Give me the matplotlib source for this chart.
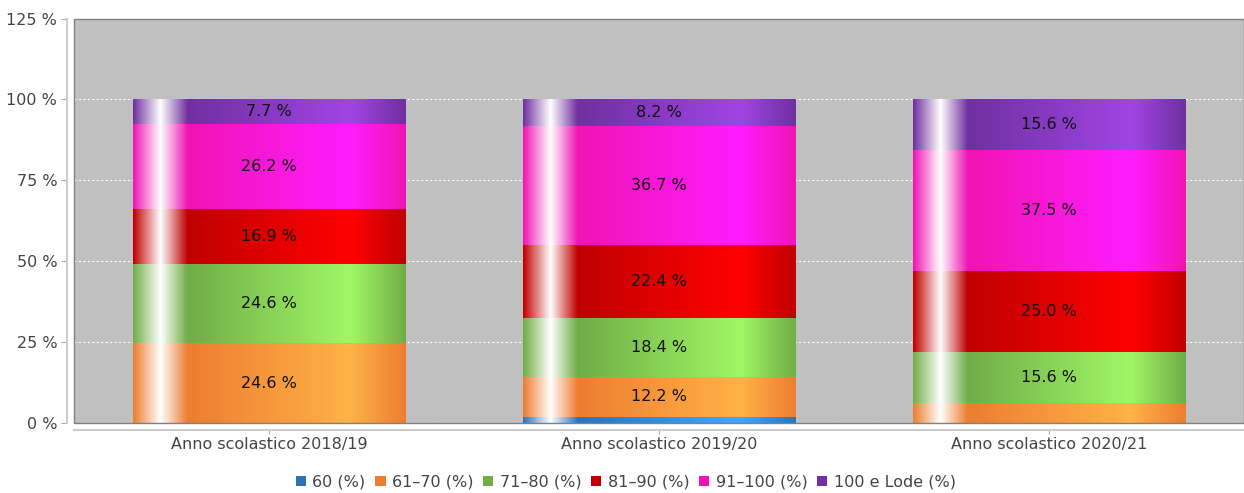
import numpy as np
import matplotlib.pyplot as plt
from matplotlib.colors import to_rgb
from matplotlib.patches import Patch, Rectangle

years = ['Anno scolastico 2018/19', 'Anno scolastico 2019/20', 'Anno scolastico 2020/21']
grades = ['60 (%)', '61\u201370 (%)', '71\u201380 (%)', '81\u201390 (%)', '91\u2013100 (%)', '100 e Lode (%)']
g60 = [0.0, 2.0, 0.0]
g61_70 = [24.6, 12.2, 6.3]
g71_80 = [24.6, 18.4, 15.6]
g81_90 = [16.9, 22.4, 25.0]
g91_100 = [26.2, 36.7, 37.5]
g_lode = [7.7, 8.2, 15.6]
series = [g60, g61_70, g71_80, g81_90, g91_100, g_lode]
colors = ['#2e74b5', '#ed7d31', '#70ad47', '#c00000', '#f014b4', '#7030a0']


def brighter(c):
    # like java.awt.Color.brighter()
    return tuple(min(1.0, v / 0.7) for v in c)


def gradient(color, n=400):
    # vertical-bar gradient: base -> white highlight -> base -> brighter -> base
    c0 = np.array(to_rgb(color))
    c1 = np.array(brighter(c0))
    white = np.ones(3)
    stops = [0.0, 0.1, 0.2, 0.8, 1.0]
    cols = np.array([c0, white, c0, c1, c0])
    t = np.linspace(0, 1, n)
    img = np.stack([np.interp(t, stops, cols[:, k]) for k in range(3)], axis=-1)
    return img[np.newaxis, :, :]


plt.rcParams['font.family'] = 'DejaVu Sans'
fig = plt.figure(figsize=(12.44, 4.93), dpi=100)
ax = fig.add_axes([74 / 1244, 1 - 423 / 493, 1170 / 1244, 404.5 / 493])
ax.set_facecolor('#c0c0c0')

x = np.arange(len(years))
bottom = np.zeros(len(years))
for vals, col, name in zip(series, colors, grades):
    vals = np.array(vals)
    bars = ax.bar(x, vals, width=0.7, bottom=bottom, color=col, label=name, zorder=2)
    for b in bars:
        if b.get_height() <= 0:
            continue
        x0, y0 = b.get_x(), b.get_y()
        ax.imshow(gradient(col), extent=[x0, x0 + b.get_width(), y0, y0 + b.get_height()],
                  aspect='auto', interpolation='bilinear', zorder=2.5)
    labels = [f'{v:.1f} %' if v >= 7 else '' for v in vals]
    ax.bar_label(bars, labels=labels, label_type='center', fontsize=11.5, color='#111111', zorder=4)
    bottom += vals

ax.set_xlim(-0.5, 2.5)
ax.set_ylim(0, 125)
ax.set_yticks([0, 25, 50, 75, 100, 125])
ax.set_yticklabels([f'{v} %' for v in [0, 25, 50, 75, 100, 125]])
ax.set_xticks(x)
ax.set_xticklabels(years)
ax.yaxis.grid(True, color='white', linestyle=(0, (2, 2)), linewidth=0.8)
ax.set_axisbelow(True)

for s in ['top', 'right']:
    ax.spines[s].set_visible(False)
for s in ['left', 'bottom']:
    ax.spines[s].set_position(('outward', 5))
    ax.spines[s].set_color('#cccccc')
    ax.spines[s].set_linewidth(1.5)
ax.add_patch(Rectangle((0, 0), 1, 1, transform=ax.transAxes, fill=False,
                       edgecolor='#808080', linewidth=1.0, zorder=5, clip_on=False))
ax.tick_params(axis='both', colors='#aaaaaa', labelcolor='#444444', labelsize=11.5, length=4)
ax.tick_params(axis='x', length=3, pad=2)
ax.tick_params(axis='y', pad=3)

handles = [Patch(facecolor=c, edgecolor='none', label=g) for c, g in zip(colors, grades)]
fig.legend(handles=handles, loc='center', bbox_to_anchor=(0.503, 1 - 482 / 493), ncol=6,
           frameon=False, fontsize=11.5, handlelength=0.65, handleheight=0.65,
           handletextpad=0.4, columnspacing=0.6, labelcolor='#444444')

fig.savefig('out.png', dpi=100)
